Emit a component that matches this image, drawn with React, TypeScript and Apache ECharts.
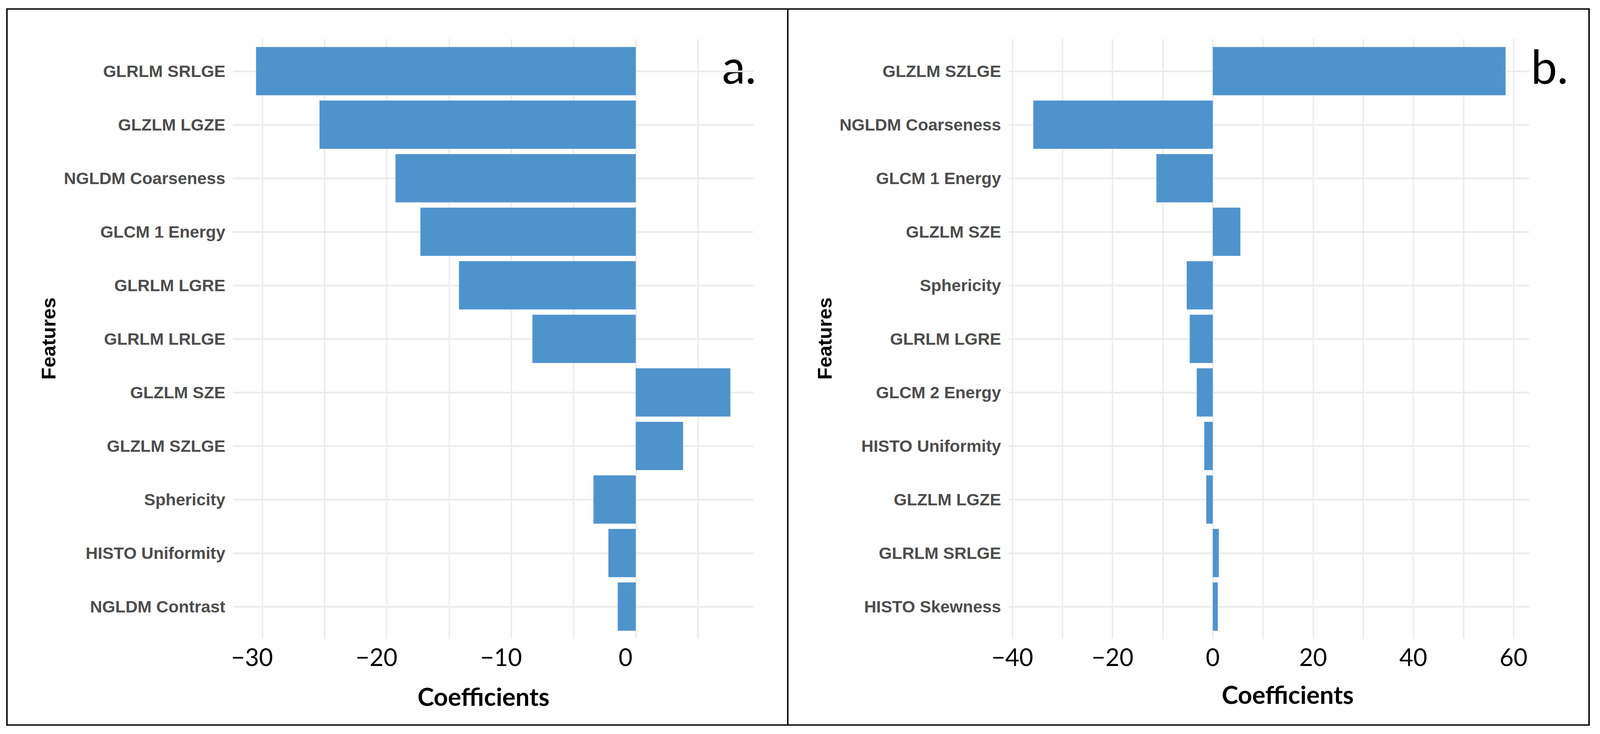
import React, { useEffect, useRef } from "react";
import * as echarts from "echarts";

// Panel a
const featuresA = [
  "GLRLM SRLGE",
  "GLZLM LGZE",
  "NGLDM Coarseness",
  "GLCM 1 Energy",
  "GLRLM LGRE",
  "GLRLM LRLGE",
  "GLZLM SZE",
  "GLZLM SZLGE",
  "Sphericity",
  "HISTO Uniformity",
  "NGLDM Contrast",
];
const coefA = [-30.5, -25.4, -19.3, -17.3, -14.2, -8.3, 7.6, 3.8, -3.4, -2.2, -1.45];
const rangeA = [-32.35, 9.45];
const labelStepA = 10;

// Panel b
const featuresB = [
  "GLZLM SZLGE",
  "NGLDM Coarseness",
  "GLCM 1 Energy",
  "GLZLM SZE",
  "Sphericity",
  "GLRLM LGRE",
  "GLCM 2 Energy",
  "HISTO Uniformity",
  "GLZLM LGZE",
  "GLRLM SRLGE",
  "HISTO Skewness",
];
const coefB = [58.4, -35.8, -11.25, 5.5, -5.2, -4.6, -3.2, -1.7, -1.3, 1.2, 1.0];
const rangeB = [-40.7, 63.1];
const labelStepB = 20;

const xTitle = "Coefficients";
const yTitle = "Features";
const panelTags = ["a.", "b."];

const BAR = "#4F93CD";
const GRIDC = "#ECECEC";
const REF_W = 4381;
const REF_H = 1878;

function fmtTick(step: number) {
  return (v: number) => {
    const r = Math.round(v);
    if (Math.abs(v - r) > 1e-6 || r % step !== 0) return "";
    return r < 0 ? "\u2212" + Math.abs(r) : String(r);
  };
}

export default function App() {
  const ref = useRef<HTMLDivElement>(null);
  useEffect(() => {
    const el = ref.current;
    if (!el) return;
    const W = el.clientWidth || window.innerWidth || REF_W;
    const H = el.clientHeight || window.innerHeight || REF_H;
    const sx = W / REF_W;
    const sy = H / REF_H;
    const fs = Math.min(sx, sy);
    const X = (v: number) => v * sx;
    const Y = (v: number) => v * sy;
    const F = (v: number) => v * fs;

    const chart = echarts.init(el, undefined, { renderer: "svg", width: W, height: H });

    function panel(
      left: number,
      width: number,
      cats: string[],
      vals: number[],
      range: number[],
      step: number,
      splitN: number,
      labelPad: number[],
      base: number
    ) {
      const grids = [
        { left: X(left), top: Y(100), width: X(width), height: Y(1534) },
        { left: X(left), top: Y(113.5), width: X(width), height: Y(1507) },
        { left: X(left), top: Y(45), width: X(width), height: Y(1507) },
      ];
      const xAxes = [
        {
          type: "value",
          gridIndex: base,
          min: range[0],
          max: range[1],
          splitNumber: splitN,
          axisLine: { show: false },
          axisTick: { show: false },
          axisLabel: {
            show: true,
            formatter: fmtTick(step),
            showMinLabel: false,
            showMaxLabel: false,
            color: "#000",
            fontFamily: "Lato",
            fontSize: F(66),
            margin: Y(15),
            padding: labelPad.map((p) => X(p)),
          },
          splitLine: {
            show: true,
            showMinLine: false,
            showMaxLine: false,
            lineStyle: { color: GRIDC, width: F(4) },
          },
        },
        { type: "value", gridIndex: base + 1, min: range[0], max: range[1], show: false },
        { type: "value", gridIndex: base + 2, min: range[0], max: range[1], show: false },
      ];
      const yAxes = [
        { type: "value", gridIndex: base, min: 0, max: 1, show: false },
        {
          type: "category",
          gridIndex: base + 1,
          data: cats,
          inverse: true,
          axisLine: { show: false },
          axisTick: { show: false },
          splitLine: { show: false },
          axisLabel: {
            color: "#4D4D4D",
            fontFamily: "Liberation Sans",
            fontWeight: "bold",
            fontSize: F(46),
            margin: X(21),
          },
        },
        {
          type: "value",
          gridIndex: base + 2,
          min: 0,
          max: cats.length,
          interval: 1,
          inverse: true,
          axisLine: { show: false },
          axisTick: { show: false },
          axisLabel: { show: false },
          splitLine: {
            show: true,
            showMinLine: false,
            showMaxLine: true,
            lineStyle: { color: GRIDC, width: F(5) },
          },
        },
      ];
      const series = {
        type: "bar",
        xAxisIndex: base + 1,
        yAxisIndex: base + 1,
        data: vals,
        barWidth: "90%",
        itemStyle: { color: BAR },
        z: 3,
      };
      return { grids, xAxes, yAxes, series };
    }

    const pa = panel(638, 1425, featuresA, coefA, rangeA, labelStepA, 8, [0, 56, 0, 0], 0);
    const pb = panel(2762, 1425, featuresB, coefB, rangeB, labelStepB, 10, [0, 0, 0, 0], 3);
    const titleFont = {
      fill: "#000",
      fontFamily: "Lato",
      fontWeight: "bold",
      fontSize: F(68),
      align: "center",
      verticalAlign: "middle",
    };
    const featFont = {
      fill: "#000",
      fontFamily: "Liberation Sans",
      fontWeight: "bold",
      fontSize: F(54),
      align: "center",
      verticalAlign: "middle",
    };
    const tagFont = {
      fill: "#000",
      fontFamily: "Lato",
      fontSize: F(128),
      align: "left",
      verticalAlign: "middle",
    };
    chart.setOption({
      animation: false,
      backgroundColor: "#fff",
      grid: [...pa.grids, ...pb.grids],
      xAxis: [...pa.xAxes, ...pb.xAxes],
      yAxis: [...pa.yAxes, ...pb.yAxes],
      series: [pa.series, pb.series],
      graphic: [
        {
          type: "rect",
          shape: { x: X(19), y: Y(23), width: X(4332), height: Y(1832) },
          style: { fill: "none", stroke: "#000", lineWidth: F(4) },
          z: 10,
        },
        {
          type: "line",
          shape: { x1: X(2157), y1: Y(23), x2: X(2157), y2: Y(1855) },
          style: { stroke: "#000", lineWidth: F(4) },
          z: 10,
        },
        { type: "text", x: X(1324), y: Y(1781), style: { ...titleFont, text: xTitle } },
        { type: "text", x: X(3526), y: Y(1776), style: { ...titleFont, text: xTitle } },
        { type: "text", x: X(133), y: Y(866), rotation: Math.PI / 2, style: { ...featFont, text: yTitle } },
        { type: "text", x: X(2258), y: Y(866), rotation: Math.PI / 2, style: { ...featFont, text: yTitle } },
        { type: "text", x: X(1977), y: Y(167), style: { ...tagFont, text: panelTags[0] } },
        { type: "text", x: X(4192), y: Y(167), style: { ...tagFont, text: panelTags[1] } },
      ],
    });
    return () => chart.dispose();
  }, []);
  return (
    <div
      ref={ref}
      style={{ position: "absolute", left: 0, top: 0, width: "100vw", height: "100vh", background: "#fff" }}
    />
  );
}
